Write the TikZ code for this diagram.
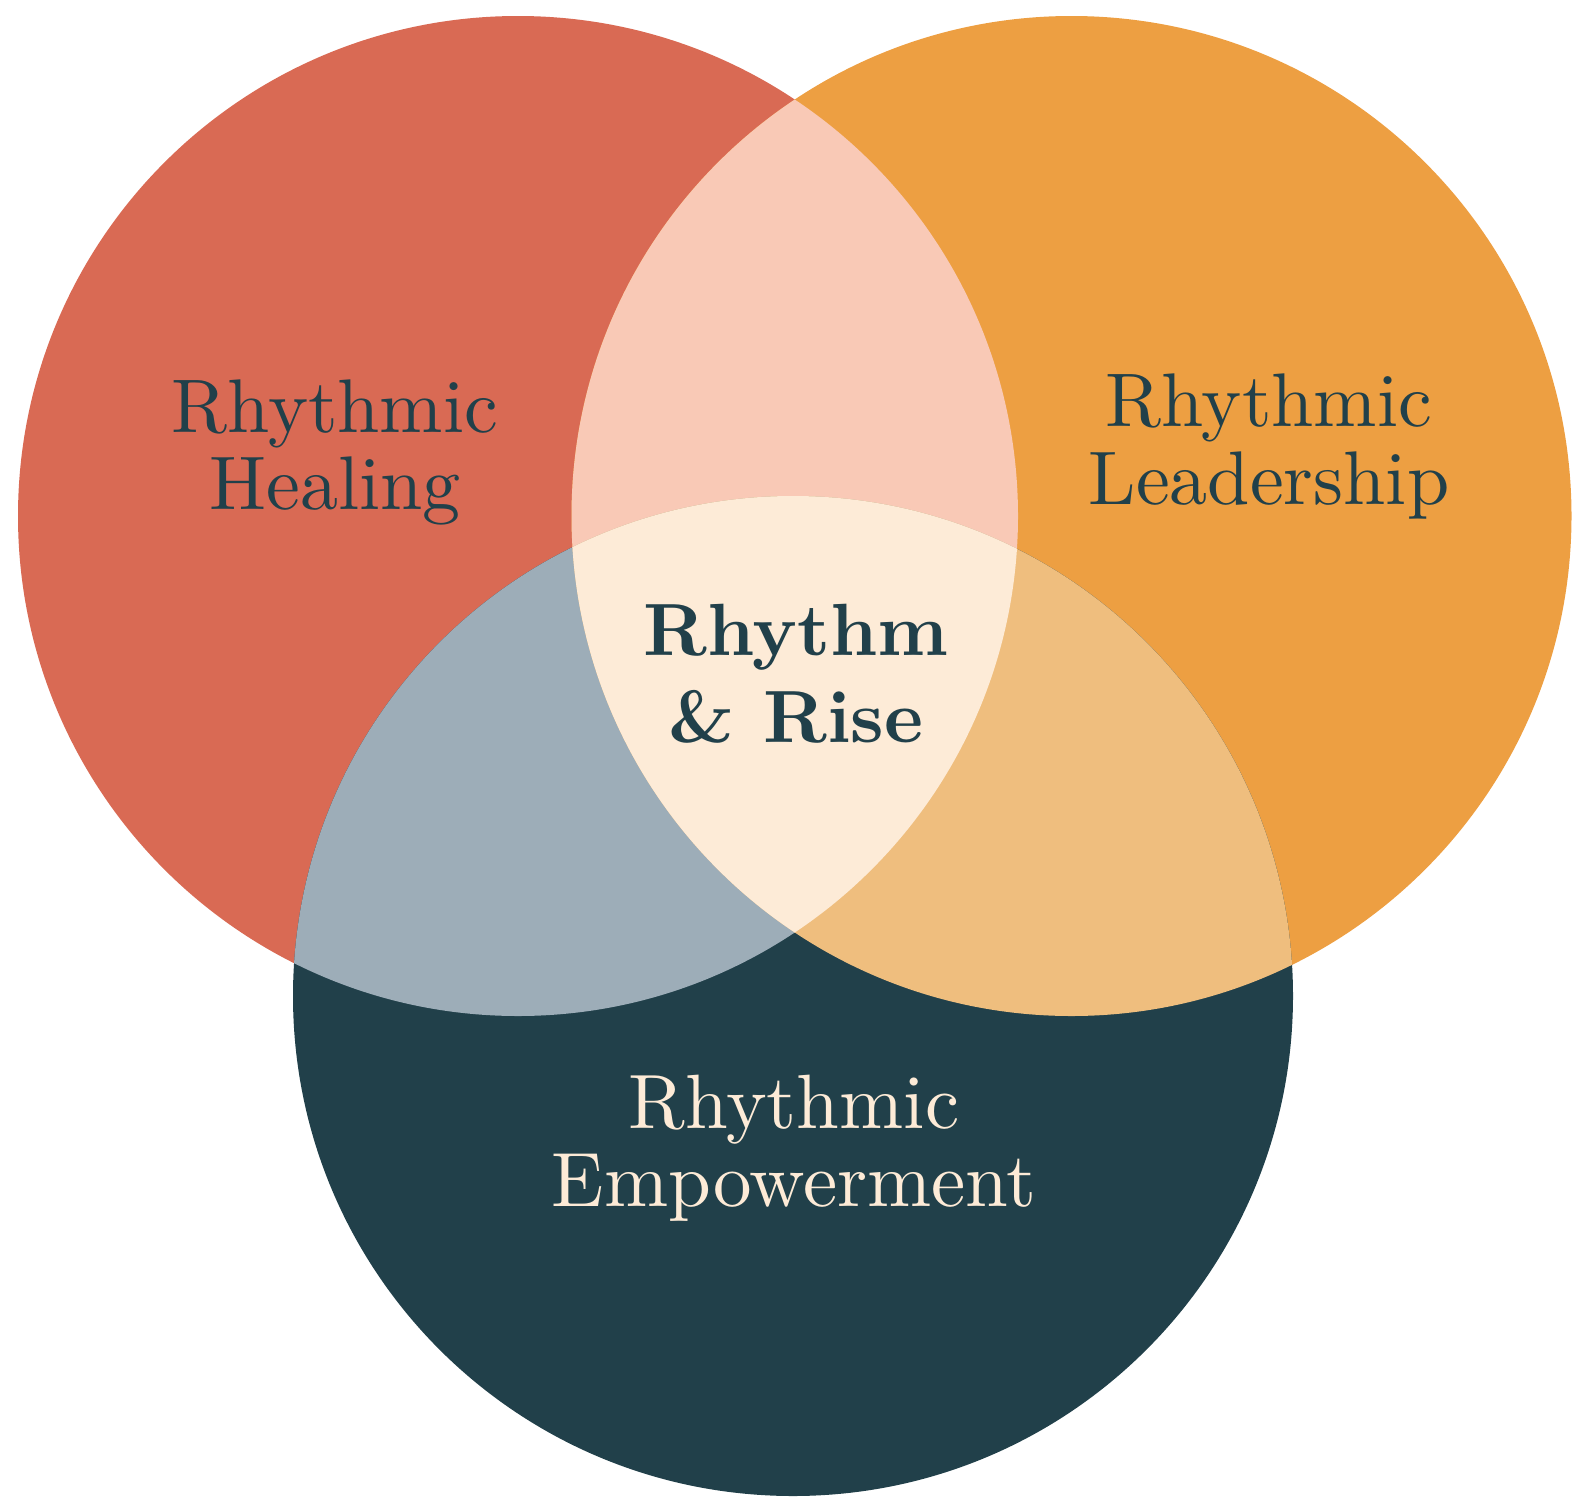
\documentclass[tikz,border=0pt]{standalone}
\usepackage{fontspec}
\setmainfont{lmroman10}[Extension=.otf, UprightFont=*-regular, BoldFont=*-bold]
\definecolor{cred}{HTML}{D96A54}
\definecolor{corange}{HTML}{ED9F42}
\definecolor{cdark}{HTML}{21404A}
\definecolor{cpink}{HTML}{F9C9B6}
\definecolor{cgray}{HTML}{9DADB8}
\definecolor{clorange}{HTML}{EFBE7E}
\definecolor{ccenter}{HTML}{FDEBD7}
\tikzset{
  lbl/.style={inner sep=0pt, anchor=north, align=center, text=cdark},
}
\begin{document}
\begin{tikzpicture}[x=1pt,y=-1pt]
\useasboundingbox (0,0) rectangle (1590,1510);
\coordinate (L) at (518,516);
\coordinate (R) at (1071.5,516);
\coordinate (B) at (793,996);
\def\rad{500pt}
\fill[cred] (L) circle[radius=\rad];
\fill[corange] (R) circle[radius=\rad];
\fill[cdark] (B) circle[radius=\rad];
\begin{scope}
  \clip (L) circle[radius=\rad];
  \fill[cpink] (R) circle[radius=\rad];
  \fill[cgray] (B) circle[radius=\rad];
\end{scope}
\begin{scope}
  \clip (R) circle[radius=\rad];
  \fill[clorange] (B) circle[radius=\rad];
\end{scope}
\begin{scope}
  \clip (L) circle[radius=\rad];
  \clip (R) circle[radius=\rad];
  \fill[ccenter] (B) circle[radius=\rad];
\end{scope}
\node[lbl, font=\fontsize{76}{77}\selectfont] (heal) at (335,380) {Rhythmic\\Healing};
\node[lbl, font=\fontsize{76}{78}\selectfont] (lead) at (1269,374) {Rhythmic\\Leadership};
\node[lbl, text=ccenter, font=\fontsize{77}{78}\selectfont] (emp) at (794,1075) {Rhythmic\\Empowerment};
\node[lbl, font=\fontsize{74}{87}\selectfont\bfseries] (core) at (796,604) {Rhythm\\\& Rise};
\end{tikzpicture}
\end{document}
